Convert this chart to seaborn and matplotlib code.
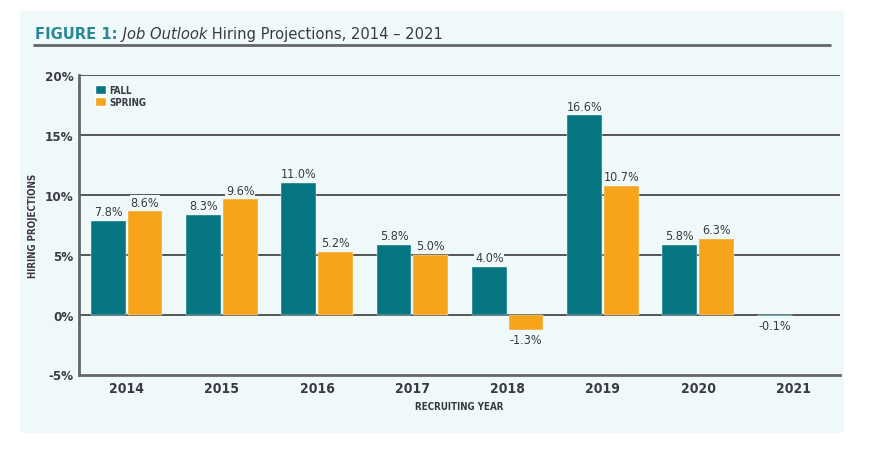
import numpy as np
import pandas as pd
import matplotlib
matplotlib.use("Agg")
import matplotlib.pyplot as plt
import seaborn as sns
from matplotlib.patches import Rectangle
from matplotlib.lines import Line2D

years = ["2014", "2015", "2016", "2017", "2018", "2019", "2020", "2021"]
fall = [7.8, 8.3, 11.0, 5.8, 4.0, 16.6, 5.8, -0.1]
spring = [8.6, 9.6, 5.2, 5.0, -1.3, 10.7, 6.3, np.nan]
seasons = ["FALL", "SPRING"]
y_ticks = [-5, 0, 5, 10, 15, 20]

TEAL = "#067582"
ORANGE = "#f7a41d"
PANEL = "#eff9fa"
DARK = "#3a3a44"

sns.set_style("white")
plt.rcParams["font.family"] = ["DejaVu Sans"]
plt.rcParams["font.stretch"] = "condensed"

df = pd.DataFrame({
    "year": years * 2,
    "value": fall + spring,
    "season": [seasons[0]] * len(years) + [seasons[1]] * len(years),
})

fig = plt.figure(figsize=(8.8, 4.52), dpi=100, facecolor="white")
fig.patches.append(Rectangle((20 / 880, 1 - 434 / 452), 824 / 880, 422 / 452,
                             transform=fig.transFigure, facecolor=PANEL,
                             edgecolor="none", zorder=-10))

ax = fig.add_axes([79 / 880, 1 - 375.5 / 452, (840 - 79) / 880, (375.5 - 75.7) / 452])
ax.set_facecolor("none")

sns.barplot(data=df, x="year", y="value", hue="season", order=years,
            hue_order=seasons, palette=[TEAL, ORANGE], errorbar=None,
            width=0.77, gap=0.05, ax=ax, saturation=1, zorder=3,
            edgecolor=PANEL, linewidth=0.3)

ax.set_ylim(-5, 20)
ax.set_xlim(-0.5, 7.49)
ax.set_yticks(y_ticks)
ax.set_yticklabels([f"{t}%" for t in y_ticks])
ax.set_axisbelow(True)
for t in y_ticks[1:]:
    ax.axhline(t, color="#2a2a2a", lw=1.1, zorder=1)

for s in ["top", "right"]:
    ax.spines[s].set_visible(False)
for s in ["left", "bottom"]:
    ax.spines[s].set_color("#666666")
    ax.spines[s].set_linewidth(2)
ax.tick_params(axis="both", length=0, colors=DARK)
ax.tick_params(axis="y", pad=4)
ax.tick_params(axis="x", pad=5)
for lab in ax.get_yticklabels():
    lab.set_fontsize(9.5)
    lab.set_fontweight("bold")
for lab in ax.get_xticklabels():
    lab.set_fontsize(10)
    lab.set_fontweight("bold")

ax.set_xlabel("RECRUITING YEAR", fontsize=7, fontweight="bold", color=DARK, labelpad=4)
ax.set_ylabel("HIRING PROJECTIONS", fontsize=7, fontweight="bold", color=DARK, labelpad=5)

for cont in ax.containers:
    labels = [f"{v:.1f}%" for v in cont.datavalues]
    ax.bar_label(cont, labels=labels, padding=2, fontsize=9, color=DARK,
                 bbox=dict(facecolor=PANEL, edgecolor="none", pad=0.6), zorder=4)

handles = [Rectangle((0, 0), 1, 1, facecolor=TEAL), Rectangle((0, 0), 1, 1, facecolor=ORANGE)]
leg = ax.legend(handles, seasons, loc="upper left", bbox_to_anchor=(0.01, 0.995),
                frameon=False, handlelength=1.05, handleheight=1.05, handletextpad=0.4,
                labelspacing=0.2, prop={"size": 7, "weight": "bold"})
for txt in leg.get_texts():
    txt.set_color(DARK)

# title
FS = 11.8
t1 = fig.text(35 / 880, 1 - 39 / 452, "FIGURE 1:", color="#2a8796", fontsize=FS,
              fontweight="bold", ha="left", va="baseline")
t2 = ax.annotate(" Job Outlook", xy=(1, 0), xycoords=t1, color=DARK, fontsize=FS,
                 fontstyle="italic", ha="left", va="bottom", annotation_clip=False)
t3 = ax.annotate(" Hiring Projections, 2014 \u2013 2021", xy=(1, 0), xycoords=t2,
                 color=DARK, fontsize=FS, ha="left", va="bottom", annotation_clip=False)
fig.lines.append(Line2D([34 / 880, 830 / 880], [1 - 46 / 452, 1 - 46 / 452],
                        transform=fig.transFigure, color="#666666", lw=2))

fig.savefig("out.png", dpi=100, facecolor="white")
